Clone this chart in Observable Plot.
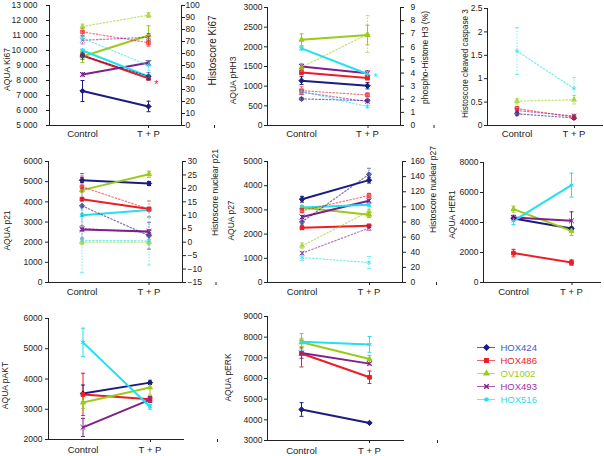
<!DOCTYPE html>
<html><head><meta charset="utf-8">
<script src="https://cdn.jsdelivr.net/npm/d3@7"></script>
<script src="https://cdn.jsdelivr.net/npm/@observablehq/plot@0.6"></script>
<style>
body{margin:0;background:#fff;}
#fig{position:relative;width:604px;height:456px;overflow:hidden;background:#fff;}
#fig svg{position:absolute;left:0;top:0;}
</style></head><body><div id="fig"></div>
<script>
const series = ["HOX424","HOX486","OV1002","HOX493","HOX516"];
const groups = ["Control","T + P"];
const lineColors = ["#1c1c80","#ee1c24","#99cc1a","#80208a","#22e0ee"];
const legendTextColors = ["#3a5bc8","#ee2222","#99cc22","#a030b0","#33d8f0"];
const symbols = ["diamond2","square2","triangle2","times","asterisk"];

// values per series, [Control, T + P]
const ki67Aqua = [[7300,6270],[9670,8150],[9600,11000],[8400,9180],[10000,8270]];
const ki67AquaErr = [[700,350],[120,100],[400,650],[100,150],[100,100]];
const ki67Histo = [[58,41],[78,69],[82.5,92],[71,73.6],[72.8,50]];
const ki67HistoErr = [[3,3],[3,3],[2,2],[3,3],[2,4]];

const phh3Aqua = [[1140,1010],[1350,1210],[2180,2300],[1500,1330],[1960,1310]];
const phh3AquaErr = [[100,80],[60,50],[150,250],[60,60],[40,50]];
const phh3Histo = [[2.03,1.9],[2.66,2.33],[4.44,6.97],[2.54,1.83],[2.6,1.45]];
const phh3HistoErr = [[0.1,0.1],[0.3,0.15],[0.3,1.4],[0.15,0.1],[0.15,0.1]];

const casp3Histo = [[0.25,0.16],[0.36,0.18],[0.52,0.55],[0.32,0.2],[1.59,0.79]];
const casp3HistoErr = [[0.04,0.03],[0.05,0.04],[0.06,0.09],[0.04,0.04],[0.5,0.23]];

const p21Aqua = [[5070,4910],[4130,3640],[4580,5370],[2630,2530],[3340,3590]];
const p21AquaErr = [[120,100],[60,60],[100,150],[60,60],[60,60]];
const p21Histo = [[13.5,2.4],[20.6,12.3],[0,0],[5.1,3.6],[0.7,0.5]];
const p21HistoErr = [[12,5],[4,3],[1,1],[1,1],[12,9]];

const p27Aqua = [[3440,4230],[2260,2340],[3100,2800],[2710,3380],[3100,3210]];
const p27AquaErr = [[120,120],[60,60],[80,120],[60,60],[60,60]];
const p27Histo = [[80,143],[95,115],[48.5,94],[38.8,72],[33,26.4]];
const p27HistoErr = [[4,8],[3,3],[4,3],[2,3],[4,8]];

const her1Aqua = [[4270,3600],[1960,1330],[4890,3440],[4330,4110],[4110,6490]];
const her1AquaErr = [[100,100],[250,180],[200,300],[150,600],[250,800]];

const paktAqua = [[3520,3880],[3490,3330],[3220,3720],[2400,3320],[5210,3080]];
const paktAquaErr = [[280,60],[700,100],[200,250],[300,100],[470,80]];

const perkAqua = [[4500,3850],[7210,6060],[7750,6940],[7230,6720],[7780,7650]];
const perkAquaErr = [[330,30],[650,300],[200,170],[250,60],[400,380]];

const W = 604, H = 456;
const FONT = "'Liberation Sans', Arial, Helvetica, sans-serif";
const fig = document.getElementById("fig");

function makeRows(vals, errs){
  return series.flatMap((s,i)=>groups.map((g,j)=>({series:s, group:g, value:vals[i][j], err:errs[i][j]})));
}
const capSymbol = {draw(ctx, size){ const r = Math.sqrt(size/Math.PI); ctx.moveTo(-r,0); ctx.lineTo(r,0);} };

function seriesMarks(rows, dotted){
  const op = dotted ? 0.6 : 1;
  const dash = dotted ? "1.5,1.5" : null;
  return [
    Plot.ruleX(rows, {x:"group", y1:d=>d.value-d.err, y2:d=>d.value+d.err, stroke:"series", strokeWidth:1, strokeOpacity:op, strokeDasharray:dash}),
    Plot.dot(rows, {x:"group", y:d=>d.value+d.err, symbol:capSymbol, r:2, fill:"none", stroke:"series", strokeWidth:1, strokeOpacity:op}),
    Plot.dot(rows, {x:"group", y:d=>d.value-d.err, symbol:capSymbol, r:2, fill:"none", stroke:"series", strokeWidth:1, strokeOpacity:op}),
    Plot.line(rows, {x:"group", y:"value", z:"series", stroke:"series", strokeWidth:dotted?1.2:2, strokeOpacity:op, strokeDasharray:dotted?"1.5,2":null}),
    Plot.dot(rows, {x:"group", y:"value", symbol:"series", fill:"series", stroke:"series", r:2.4, strokeWidth:1, fillOpacity:op, strokeOpacity:op})
  ];
}

function titleMark(t, left, top){
  return Plot.text([t.text], {frameAnchor:"top-left", text:d=>d, dx:t.x-left, dy:t.y-top, rotate:-90,
    textAnchor:"middle", lineAnchor:"middle", fontSize:t.size||8.5, fill:"#222"});
}

function addSvg(svg){ fig.appendChild(svg); }

function panel(cfg){
  const {left, right, top, bottom, domain, ticks, fmt, rows, dotted, tickPad, title, xPad, extra} = cfg;
  const bw = (right-left)/2;
  const marks = [
    ...seriesMarks(rows, dotted),
    Plot.frame({anchor:"left", stroke:"#222"}),
    Plot.frame({anchor:"bottom", stroke:"#222"}),
    Plot.axisY({anchor:"left", ticks, tickFormat:fmt, tickSize:3, tickPadding:tickPad, label:null, fontSize:8.5}),
    Plot.axisX({anchor:"bottom", tickSize:0, tickPadding:xPad, label:null, fontSize:9.5}),
    Plot.axisX({anchor:"bottom", tickSize:3, tickFormat:()=>"", dx:bw, label:null}),
    titleMark(title, left, top),
    ...(extra||[])
  ];
  addSvg(Plot.plot({
    width:W, height:H, marginLeft:left, marginRight:W-right, marginTop:top, marginBottom:H-bottom,
    style:{background:"transparent", fontFamily:FONT, fontSize:"8.5px", color:"#222"},
    x:{type:"band", domain:groups, padding:0},
    y:{domain},
    color:{domain:series, range:lineColors},
    symbol:{domain:series, range:symbols},
    marks
  }));
}

function rightPanel(cfg){
  const {left, right, top, bottom, domain, ticks, fmt, rows, tickPad, title} = cfg;
  addSvg(Plot.plot({
    width:W, height:H, marginLeft:left, marginRight:W-right, marginTop:top, marginBottom:H-bottom,
    style:{background:"transparent", fontFamily:FONT, fontSize:"8.5px", color:"#222"},
    x:{type:"band", domain:groups, padding:0, axis:null},
    y:{domain},
    color:{domain:series, range:lineColors},
    symbol:{domain:series, range:symbols},
    marks:[
      ...seriesMarks(rows, true),
      Plot.frame({anchor:"right", stroke:"#222"}),
      Plot.axisY({anchor:"right", ticks, tickFormat:fmt, tickSize:3, tickPadding:tickPad, label:null, fontSize:8.5}),
      titleMark(title, left, top)
    ]
  }));
}

const intFmt = d3.format("d");
const spaceFmt = d => d3.format(",")(d).replace(",", " ");

try {
  // Ki67
  const ki67A = makeRows(ki67Aqua, ki67AquaErr);
  panel({left:49, right:181, top:5, bottom:125, domain:[5000,13000], ticks:d3.range(5000,13001,1000), fmt:spaceFmt,
    rows:ki67A, tickPad:9, xPad:5, title:{text:"AQUA Ki67", x:7, y:69},
    extra:[Plot.text(ki67A.filter(d=>d.series==="HOX486" && d.group==="T + P"), {x:"group", y:"value", text:()=>"*", dx:8, dy:6, fill:"#ee1c24", fontSize:11})]});
  rightPanel({left:49, right:181, top:5, bottom:125, domain:[0,100], ticks:d3.range(0,101,10), fmt:intFmt,
    rows:makeRows(ki67Histo, ki67HistoErr), tickPad:1, title:{text:"Histoscore Ki67", x:212, y:50, size:10}});

  // pHH3
  const phh3A = makeRows(phh3Aqua, phh3AquaErr);
  panel({left:267, right:400, top:7, bottom:125, domain:[0,3000], ticks:d3.range(0,3001,500), fmt:intFmt,
    rows:phh3A, tickPad:2, xPad:5, title:{text:"AQUA pHH3", x:233, y:80},
    extra:[Plot.text(phh3A.filter(d=>d.series==="HOX516" && d.group==="T + P"), {x:"group", y:"value", text:()=>"*", dx:8, dy:3, fill:"#22e0ee", fontSize:11})]});
  rightPanel({left:267, right:400, top:7, bottom:125, domain:[0,9], ticks:d3.range(0,10,1), fmt:intFmt,
    rows:makeRows(phh3Histo, phh3HistoErr), tickPad:7, title:{text:"phospho-Histone H3 (%)", x:425, y:57}});

  // cleaved caspase 3
  panel({left:487, right:602, top:8, bottom:125, domain:[0,2.5], ticks:[0,0.5,1,1.5,2,2.5], fmt:d=>String(d),
    rows:makeRows(casp3Histo, casp3HistoErr), dotted:true, tickPad:2, xPad:5, title:{text:"Histoscore cleaved caspase 3", x:465, y:63, size:8.2}});

  // p21
  panel({left:48, right:182, top:161, bottom:282, domain:[0,6000], ticks:d3.range(0,6001,1000), fmt:intFmt,
    rows:makeRows(p21Aqua, p21AquaErr), tickPad:3, xPad:6, title:{text:"AQUA p21", x:7, y:230}});
  rightPanel({left:48, right:182, top:161, bottom:282, domain:[-15,30], ticks:d3.range(-15,31,5), fmt:intFmt,
    rows:makeRows(p21Histo, p21HistoErr), tickPad:2, title:{text:"Histoscore nuclear p21", x:215, y:192}});

  // p27
  panel({left:267, right:402, top:161, bottom:282, domain:[0,5000], ticks:d3.range(0,5001,1000), fmt:intFmt,
    rows:makeRows(p27Aqua, p27AquaErr), tickPad:2, xPad:6, title:{text:"AQUA p27", x:231, y:220}});
  rightPanel({left:267, right:402, top:161, bottom:282, domain:[0,160], ticks:d3.range(0,161,20), fmt:intFmt,
    rows:makeRows(p27Histo, p27HistoErr), tickPad:5, title:{text:"Histoscore nuclear p27", x:433, y:189}});

  // HER1
  panel({left:483, right:600, top:162, bottom:282, domain:[0,8000], ticks:d3.range(0,8001,2000), fmt:intFmt,
    rows:makeRows(her1Aqua, her1AquaErr), tickPad:2, xPad:6, title:{text:"AQUA HER1", x:452, y:214}});

  // pAKT
  panel({left:48, right:183, top:318, bottom:439, domain:[2000,6000], ticks:d3.range(2000,6001,1000), fmt:intFmt,
    rows:makeRows(paktAqua, paktAquaErr), tickPad:3, xPad:7, title:{text:"AQUA pAKT", x:5, y:385}});

  // pERK
  panel({left:267, right:403, top:316, bottom:440, domain:[3000,9000], ticks:d3.range(3000,9001,1000), fmt:intFmt,
    rows:makeRows(perkAqua, perkAquaErr), tickPad:2, xPad:7, title:{text:"AQUA pERK", x:228, y:377}});

  // legend
  addSvg(Plot.plot({
    width:W, height:H, marginLeft:477, marginRight:W-495, marginTop:345, marginBottom:H-400,
    style:{background:"transparent", fontFamily:FONT, fontSize:"9.5px"},
    y:{type:"point", domain:series, padding:0, axis:null},
    symbol:{domain:series, range:symbols},
    color:{type:"identity"},
    marks:[
      Plot.tickY(series, {y:d=>d, stroke:(d,i)=>lineColors[i], strokeOpacity:0.7, strokeWidth:1}),
      Plot.dot(series, {y:d=>d, frameAnchor:"middle", symbol:d=>d, fill:(d,i)=>lineColors[i], stroke:(d,i)=>lineColors[i], r:2.2}),
      Plot.text(series, {y:d=>d, frameAnchor:"right", dx:5, textAnchor:"start", text:d=>d, fill:(d,i)=>legendTextColors[i], fontSize:9.5})
    ]
  }));
} catch (e) {
  const pre = document.createElement("pre"); pre.textContent = e.stack; document.body.appendChild(pre);
}
</script></body></html>
